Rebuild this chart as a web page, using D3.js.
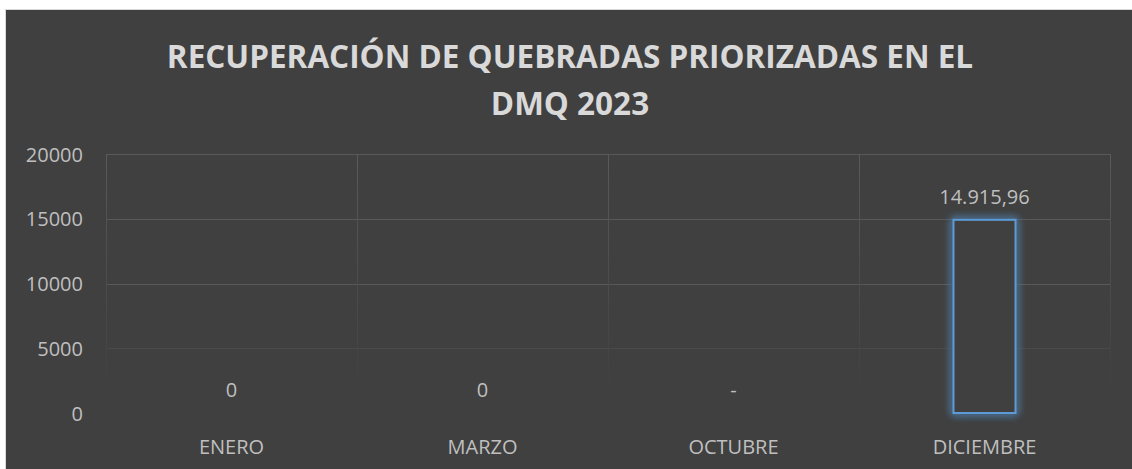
<!DOCTYPE html>
<html><head><meta charset="utf-8">
<script src="https://cdn.jsdelivr.net/npm/d3@7/dist/d3.min.js"></script>
<style>html,body{margin:0;padding:0;background:#fff;}svg{display:block;}</style>
</head><body>
<svg id="c" width="1132" height="469"></svg>
<script>
const categories = ["ENERO", "MARZO", "OCTUBRE", "DICIEMBRE"];
const values = [0, 0, null, 14915.96];
const dataLabels = ["0", "0", "-", "14.915,96"];
const yTicks = [0, 5000, 10000, 15000, 20000];
const titleLines = ["RECUPERACIÓN DE QUEBRADAS PRIORIZADAS EN EL", "DMQ 2023"];

const W = 1132, H = 469;
const svg = d3.select("#c");
const font = "'Open Sans', 'Noto Sans', sans-serif";
const textCol = "#bfbfbf";
const fs = 20;

const defs = svg.append("defs");
const glow = defs.append("filter").attr("id","glow").attr("x","-50%").attr("y","-50%").attr("width","200%").attr("height","200%");
glow.append("feGaussianBlur").attr("in","SourceGraphic").attr("stdDeviation",4).attr("result","b");
const m = glow.append("feMerge");
m.append("feMergeNode").attr("in","b");
m.append("feMergeNode").attr("in","b");
m.append("feMergeNode").attr("in","SourceGraphic");

const vg = defs.append("linearGradient").attr("id","vgrad").attr("x1",0).attr("y1",0).attr("x2",0).attr("y2",1);
vg.append("stop").attr("offset","0%").attr("stop-color","#5a5a5a");
vg.append("stop").attr("offset","100%").attr("stop-color","#404040");

svg.append("rect").attr("x",5.5).attr("y",9.5).attr("width",W).attr("height",H)
  .attr("fill","#404040").attr("stroke","#d9d9d9").attr("stroke-width",1);

const x = d3.scaleBand().domain(categories).range([106, 1110]).paddingInner(0).paddingOuter(0);
const y = d3.scaleLinear().domain([0, 20000]).range([413, 154]);

// horizontal gridlines
svg.append("g").selectAll("line").data(yTicks.filter(t=>t>0)).join("line")
  .attr("x1",106).attr("x2",1110).attr("y1",d=>Math.round(y(d))+0.5).attr("y2",d=>Math.round(y(d))+0.5)
  .attr("stroke",d=> d===5000 ? "#4a4a4a" : "#595959").attr("stroke-width",1);

// vertical gridlines (category boundaries)
const bounds = categories.map(c=>x(c)).concat([x.range()[1]]);
svg.append("g").selectAll("rect").data(bounds).join("rect")
  .attr("x",d=>Math.round(d)).attr("y",y(20000)).attr("width",1).attr("height",y(0)-y(20000)-20)
  .attr("fill","url(#vgrad)");

// y axis labels
const yAxis = d3.axisLeft(y).tickValues(yTicks).tickFormat(d3.format("d")).tickSize(0).tickPadding(0);
const ga = svg.append("g").attr("transform","translate(83,0)").call(yAxis);
ga.select(".domain").remove();
ga.selectAll("text").attr("fill",textCol).attr("font-family",font).attr("font-size",fs).attr("dy","0.35em");

// x axis labels
const xAxis = d3.axisBottom(x).tickSize(0).tickPadding(0);
const gx = svg.append("g").attr("transform","translate(0,447)").call(xAxis);
gx.select(".domain").remove();
gx.selectAll("text").attr("fill",textCol).attr("font-family",font).attr("font-size",fs).attr("dy","0.35em");

// bars
const bw = 62;
svg.append("g").selectAll("rect").data(categories.map((c,i)=>({c,v:values[i]})).filter(d=>d.v)).join("rect")
  .attr("x",d=>x(d.c)+x.bandwidth()/2-bw/2).attr("width",bw)
  .attr("y",d=>y(d.v)).attr("height",d=>y(0)-y(d.v))
  .attr("fill","#404040").attr("stroke","#5b9bd5").attr("stroke-width",2).attr("filter","url(#glow)");

// data labels
svg.append("g").selectAll("text").data(categories.map((c,i)=>({c,v:values[i],l:dataLabels[i]}))).join("text")
  .attr("x",d=>x(d.c)+x.bandwidth()/2)
  .attr("y",d=>y(d.v||0)-23)
  .attr("dy","0.35em").attr("text-anchor","middle")
  .attr("fill",textCol).attr("font-family",font).attr("font-size",fs)
  .text(d=>d.l);

// title
svg.append("g").selectAll("text").data(titleLines).join("text")
  .attr("x",570).attr("y",(d,i)=>57+i*47).attr("dy","0.35em").attr("text-anchor","middle")
  .attr("fill","#d9d9d9").attr("font-family",font).attr("font-weight","bold").attr("font-size",31.5)
  .text(d=>d);
</script>
</body></html>
